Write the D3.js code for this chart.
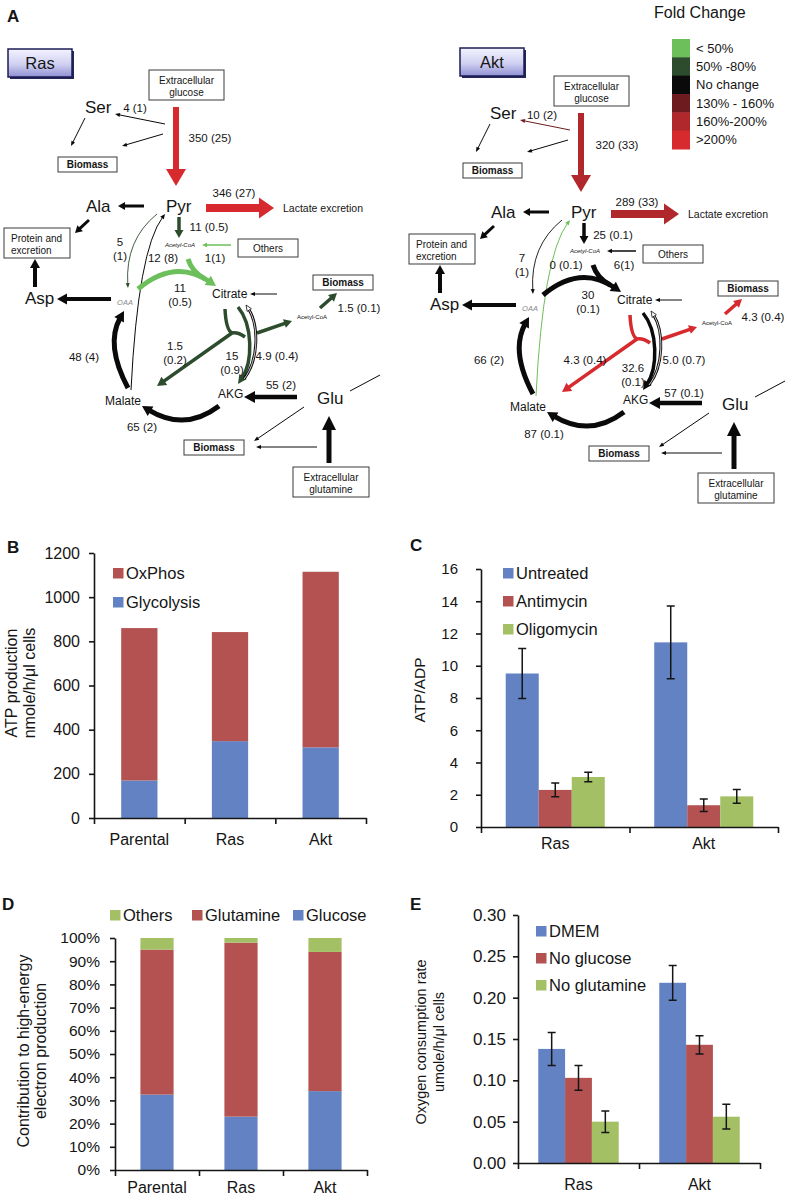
<!DOCTYPE html>
<html>
<head>
<meta charset="utf-8">
<script src="https://cdn.jsdelivr.net/npm/d3@7"></script>
<style>body{margin:0;background:#fff}</style>
</head>
<body>
<script>
var W = 787, H = 1199;
var FONT = '"Liberation Sans", Arial, Helvetica, sans-serif';
var INK = '#151515';

// ---------- data ----------
var foldLevels = ['< 50%', '50% -80%', 'No change', '130% - 160%', '160%-200%', '>200%'];
var foldColors = ['#6cbf5a', '#2d4b2d', '#0a0a0a', '#6e1b1f', '#b0282c', '#d62a2e'];

var fluxKeys = ['ser', 'glc', 'lac', 'pdh', 'pc', 'me', 'oth', 'cs', 'mal', 'idh', 'rev', 'acly', 'mdh', 'gdh', 'fum'];
var rasFlux = ['4 (1)', '350 (25)', '346 (27)', '11 (0.5)', '5\n(1)', '12 (8)', '1(1)', '11\n(0.5)', '1.5\n(0.2)', '15\n(0.9)', '4.9 (0.4)', '1.5 (0.1)', '48 (4)', '55 (2)', '65 (2)'];
var aktFlux = ['10 (2)', '320 (33)', '289 (33)', '25 (0.1)', '7\n(1)', '0 (0.1)', '6(1)', '30\n(0.1)', '4.3 (0.4)', '32.6\n(0.1)', '5.0 (0.7)', '4.3 (0.4)', '66 (2)', '57 (0.1)', '87 (0.1)'];

// fold-change class of each reaction (index in foldLevels, 2 = no change when missing)
var rasFold = {glc: 5, lac: 5, pdh: 1, oth: 0, pc: 1, cs: 0, acoaIn: 0, acly: 1, bio: 1, mal: 1, idh: 1};
var aktFold = {glc: 4, lac: 4, ser: 3, me: 0, acly: 5, bio: 5, mal: 5};

var atpCats = ['Parental', 'Ras', 'Akt'];
var atpSeries = ['Glycolysis', 'OxPhos'];
var atpGlycolysis = [170, 348, 320];
var atpOxphos = [690, 494, 795];

var ratioCats = ['Ras', 'Akt'];
var ratioSeries = ['Untreated', 'Antimycin', 'Oligomycin'];
var ratioMean = [[9.52, 2.3, 3.1], [11.45, 1.35, 1.9]];
var ratioErr = [[1.55, 0.43, 0.3], [2.25, 0.39, 0.43]];

var elecCats = ['Parental', 'Ras', 'Akt'];
var elecSeries = ['Glucose', 'Glutamine', 'Others'];
var elecGlucose = [32.5, 23, 34];
var elecGlutamine = [62.5, 75, 60];
var elecOthers = [5, 2, 6];

var o2Cats = ['Ras', 'Akt'];
var o2Series = ['DMEM', 'No glucose', 'No glutamine'];
var o2Mean = [[0.138, 0.103, 0.050], [0.218, 0.143, 0.056]];
var o2Err = [[0.020, 0.015, 0.013], [0.021, 0.011, 0.015]];

var BLUE = '#6382c3', RED = '#b45252', GREEN = '#a3c164';

// ---------- layout of the pathway sketch (panel-local px) ----------
var geo = {
  glc:    {pts: [[176, 107], [176, 186]], w: 6, hl: 17, hw: 20},
  lac:    {pts: [[206, 208], [274, 208]], w: 8, hl: 15, hw: 21},
  ser:    {pts: [[165, 124], [115, 114]], w: 1, hl: 5, hw: 4},
  serBio2:{pts: [[163, 134], [122, 146]], w: 1, hl: 5, hw: 4},
  serBio: {pts: [[85, 118], [71, 146]], w: 1, hl: 5, hw: 4},
  ala:    {pts: [[144, 206], [118, 206]], w: 3, hl: 7, hw: 8},
  alaOut: {pts: [[89, 220], [75, 233]], w: 3, hl: 7, hw: 8},
  pdh:    {pts: [[179, 217], [179, 238]], w: 3.5, hl: 8, hw: 9},
  oth:    {pts: [[231, 245], [202, 245]], w: 1.5, hl: 5, hw: 4.5},
  pc:     {pts: [[157, 214], [125, 240], [128, 288]], w: 0.9, hl: 5, hw: 4},
  me:     {pts: [[131, 390], [138, 250], [165, 214]], w: 1, hl: 5, hw: 4.5},
  cs:     {pts: [[138, 289], [175, 258], [216, 286]], w: 5, hl: 10, hw: 11},
  acoaIn: {pts: [[188, 259], [192, 272], [205, 279]], w: 5},
  citIn:  {pts: [[277, 294], [250, 294]], w: 1, hl: 5, hw: 4},
  acly:   {pts: [[257, 333], [292, 321]], w: 3.5, hl: 8, hw: 9},
  bio:    {pts: [[320, 308], [337, 293]], w: 3.5, hl: 8, hw: 9},
  malA:   {pts: [[225, 309], [226, 330], [232, 333]], w: 3.5, fold: 'mal'},
  malB:   {pts: [[245, 337], [238, 332], [232, 333]], w: 3.5, fold: 'mal'},
  mal:    {pts: [[232, 333], [157, 386]], w: 3.5, hl: 9, hw: 10},
  idh:    {pts: [[238, 307], [253, 325], [253, 362], [238, 384]], w: 3.5, hl: 9, hw: 9},
  rev:    {pts: [[244, 379], [259, 360], [259, 325], [246, 305]], w: 1, hl: 6, hw: 5, outline: true},
  gdh:    {pts: [[297, 397], [244, 397]], w: 4.5, hl: 11, hw: 12},
  fum:    {pts: [[219, 406], [185, 432], [142, 406]], w: 5, hl: 10, hw: 11},
  mdh:    {pts: [[128, 388], [105, 345], [124, 311]], w: 5, hl: 10, hw: 11},
  asp:    {pts: [[111, 299], [57, 299]], w: 4, hl: 10, hw: 11},
  aspOut: {pts: [[35, 287], [35, 259]], w: 4, hl: 9, hw: 10},
  gluOut: {pts: [[350, 391], [380, 375]], w: 1},
  gluBio: {pts: [[304, 407], [254, 441]], w: 1, hl: 5, hw: 4},
  glnBio: {pts: [[317, 447], [256, 447]], w: 1, hl: 5, hw: 4},
  gln:    {pts: [[329, 463], [329, 416]], w: 5, hl: 14, hw: 14}
};

var nodes = [
  ['Ser', 85, 113, 17], ['Pyr', 166, 212, 17], ['Ala', 86, 212, 17], ['Asp', 25, 304, 17], ['Glu', 317, 404, 17],
  ['Citrate', 212, 298, 12], ['Malate', 105, 405, 12], ['AKG', 218, 398, 12]
];
var boxes = [
  {t: 'Extracellular\nglucose', x: 149, y: 70, w: 75, h: 30, ty: 84},
  {t: 'Biomass', x: 58, y: 157, w: 59, h: 15, ty: 168, bold: true},
  {t: 'Protein and\nexcretion', x: 4, y: 228, w: 66, h: 30, ty: 242, left: true},
  {t: 'Others', x: 238, y: 239, w: 60, h: 18, ty: 252},
  {t: 'Biomass', x: 313, y: 275, w: 60, h: 15, ty: 286, bold: true},
  {t: 'Biomass', x: 184, y: 440, w: 60, h: 15, ty: 451, bold: true},
  {t: 'Extracellular\nglutamine', x: 293, y: 467, w: 76, h: 30, ty: 481}
];
var fluxPos = {
  Ras: {ser: [135, 112], glc: [210, 142], lac: [234, 197], pdh: [209, 231], pc: [120, 246], me: [163, 262], oth: [215, 262],
        cs: [180, 292], mal: [175, 350], idh: [232, 360], rev: [277, 360], acly: [359, 312], mdh: [84, 361], gdh: [281, 389], fum: [142, 431]},
  Akt: {ser: [137, 113], glc: [212, 143], lac: [232, 200], pdh: [208, 233], pc: [117, 256], me: [161, 263], oth: [219, 263],
        cs: [183, 293], mal: [180, 358], idh: [228, 366], rev: [279, 358], acly: [358, 315], mdh: [84, 358], gdh: [279, 391], fum: [139, 432]}
};

var svg = d3.select('body').append('svg')
  .attr('width', W).attr('height', H)
  .style('font-family', FONT);

var defs = svg.append('defs');
var grad = defs.append('linearGradient').attr('id', 'tagfill').attr('x1', 0).attr('y1', 0).attr('x2', 0).attr('y2', 1);
grad.append('stop').attr('offset', '0%').attr('stop-color', '#f3f3ff');
grad.append('stop').attr('offset', '55%').attr('stop-color', '#d0d0f2');
grad.append('stop').attr('offset', '100%').attr('stop-color', '#8f8fd2');

function txt(g, s, x, y, o) {
  o = o || {};
  var t = g.append('text').attr('x', x).attr('y', y)
    .attr('font-size', o.size || 11.5)
    .attr('text-anchor', o.anchor || 'start')
    .attr('fill', o.color || INK);
  if (o.bold) t.attr('font-weight', 'bold');
  if (o.italic) t.attr('font-style', 'italic');
  s.split('\n').forEach(function (line, i) {
    t.append('tspan').attr('x', x).attr('dy', i ? (o.lh || 13.5) : 0).text(line);
  });
  return t;
}

function arrow(g, a, color) {
  var p = a.pts.map(function (q) { return q.slice(); });
  var n = p.length, end = a.pts[n - 1], prev = a.pts[n - 2];
  var dx = end[0] - prev[0], dy = end[1] - prev[1], L = Math.hypot(dx, dy);
  dx /= L; dy /= L;
  if (a.hl) p[n - 1] = [end[0] - dx * a.hl * 0.75, end[1] - dy * a.hl * 0.75];
  var path = d3.path();
  path.moveTo(p[0][0], p[0][1]);
  if (n === 2) path.lineTo(p[1][0], p[1][1]);
  else if (n === 3) path.quadraticCurveTo(p[1][0], p[1][1], p[2][0], p[2][1]);
  else path.bezierCurveTo(p[1][0], p[1][1], p[2][0], p[2][1], p[3][0], p[3][1]);
  if (a.outline) {
    g.append('path').attr('d', path.toString()).attr('fill', 'none').attr('stroke', color).attr('stroke-width', a.w + 1.8);
    g.append('path').attr('d', path.toString()).attr('fill', 'none').attr('stroke', '#fff').attr('stroke-width', a.w * 0.8);
  } else {
    g.append('path').attr('d', path.toString()).attr('fill', 'none').attr('stroke', color).attr('stroke-width', a.w);
  }
  if (a.hl) {
    var bx = end[0] - dx * a.hl, by = end[1] - dy * a.hl, nx = -dy * a.hw / 2, ny = dx * a.hw / 2;
    g.append('path')
      .attr('d', 'M' + end + 'L' + [bx + nx, by + ny] + 'L' + [bx - nx, by - ny] + 'Z')
      .attr('fill', a.outline ? '#fff' : color)
      .attr('stroke', a.outline ? color : 'none').attr('stroke-width', 0.8);
  }
}

// ---------- panel A ----------
txt(svg, 'A', 7, 22, {size: 17, bold: true});

var panels = [
  {name: 'Ras', flux: rasFlux, fold: rasFold, dx: 0, dy: 0, tag: [8, 49]},
  {name: 'Akt', flux: aktFlux, fold: aktFold, dx: 405, dy: 6, tag: [460, 48]}
];

panels.forEach(function (P) {
  // tag box
  svg.append('rect').attr('x', P.tag[0] + 2).attr('y', P.tag[1] + 2).attr('width', 64).attr('height', 28).attr('fill', '#25255a');
  svg.append('rect').attr('x', P.tag[0]).attr('y', P.tag[1]).attr('width', 64).attr('height', 28)
    .attr('fill', 'url(#tagfill)').attr('stroke', '#1d1d55').attr('stroke-width', 1.5);
  txt(svg, P.name, P.tag[0] + 32, P.tag[1] + 20, {size: 16.5, anchor: 'middle'});

  var g = svg.append('g').attr('transform', 'translate(' + P.dx + ',' + P.dy + ')');

  Object.keys(geo).forEach(function (k) {
    var key = geo[k].fold || k;
    var lvl = P.fold[key] !== undefined ? P.fold[key] : 2;
    arrow(g, geo[k], foldColors[lvl]);
  });

  boxes.forEach(function (b) {
    g.append('rect').attr('x', b.x).attr('y', b.y).attr('width', b.w).attr('height', b.h)
      .attr('fill', '#fff').attr('stroke', '#3a3a3a').attr('stroke-width', 1);
    txt(g, b.t, b.left ? b.x + 7 : b.x + b.w / 2, b.ty, {size: 10, bold: b.bold, anchor: b.left ? 'start' : 'middle', lh: 12});
  });

  nodes.forEach(function (d) { txt(g, d[0], d[1], d[2], {size: d[3]}); });
  txt(g, 'OAA', 125, 305, {size: 7.5, italic: true, anchor: 'middle', color: '#8a8a8a'});
  txt(g, 'Acetyl-CoA', 180, 247, {size: 6, italic: true, anchor: 'middle'});
  txt(g, 'Acetyl-CoA', 312, 319, {size: 6, anchor: 'middle'});
  txt(g, 'Lactate excretion', 283, 212, {size: 10.5});

  fluxKeys.forEach(function (k, i) {
    var pos = fluxPos[P.name][k];
    txt(g, P.flux[i], pos[0], pos[1], {size: 11.5, anchor: 'middle', lh: 13.5});
  });
});

// fold change legend
txt(svg, 'Fold Change', 654, 18, {size: 16});
var fcY = d3.scaleBand().domain(foldLevels).range([39, 149]);
svg.selectAll('rect.fc').data(foldLevels).join('rect').attr('class', 'fc')
  .attr('x', 672).attr('y', function (d) { return fcY(d); })
  .attr('width', 18).attr('height', fcY.bandwidth() + 0.5)
  .attr('fill', function (d, i) { return foldColors[i]; });
foldLevels.forEach(function (d) {
  txt(svg, d, 696, fcY(d) + fcY.bandwidth() / 2 + 4.5, {size: 13});
});

// ---------- chart helpers ----------
function yAxis(y, x, ticks, fmt, size, pad) {
  var ag = svg.append('g').attr('transform', 'translate(' + x + ',0)')
    .call(d3.axisLeft(y).tickValues(ticks).tickFormat(fmt).tickSize(5).tickSizeOuter(0).tickPadding(pad));
  ag.attr('font-family', FONT).attr('font-size', size);
  ag.selectAll('path,line').attr('stroke', INK).attr('stroke-width', 1.6);
  ag.selectAll('text').attr('fill', INK);
}
function xAxis(xb, yPix, size, labelY) {
  var r = xb.range();
  var lin = d3.scaleLinear().domain(r).range(r);
  var bounds = xb.domain().map(function (c) { return xb(c); }).concat([r[1]]);
  var ag = svg.append('g').attr('transform', 'translate(0,' + yPix + ')')
    .call(d3.axisBottom(lin).tickValues(bounds).tickFormat('').tickSize(6).tickSizeOuter(0));
  ag.selectAll('path,line').attr('stroke', INK).attr('stroke-width', 1.6);
  xb.domain().forEach(function (c) {
    txt(svg, c, xb(c) + xb.bandwidth() / 2, labelY, {size: size, anchor: 'middle'});
  });
}
function vLabel(lines, xs, cy, size) {
  lines.forEach(function (s, i) {
    svg.append('text').attr('transform', 'translate(' + xs[i] + ',' + cy + ') rotate(-90)')
      .attr('text-anchor', 'middle').attr('font-size', size).attr('fill', INK).text(s);
  });
}
function legend(items, colors, xs, ys, size) {
  items.forEach(function (s, i) {
    svg.append('rect').attr('x', xs[i]).attr('y', ys[i] - 10).attr('width', 10.5).attr('height', 10.5).attr('fill', colors[i]);
    txt(svg, s, xs[i] + 13, ys[i] + 0.5, {size: size});
  });
}
function errBars(x, y, v, e) {
  svg.append('path')
    .attr('d', 'M' + x + ',' + y(v + e) + 'V' + y(v - e) + 'M' + (x - 4) + ',' + y(v + e) + 'h8M' + (x - 4) + ',' + y(v - e) + 'h8')
    .attr('stroke', INK).attr('stroke-width', 1.5).attr('fill', 'none');
}

// ---------- panel B ----------
txt(svg, 'B', 7, 553, {size: 17, bold: true});
var bx = d3.scaleBand().domain(atpCats).range([94, 366]);
var by = d3.scaleLinear().domain([0, 1200]).range([818, 553]);
var atpRows = atpCats.map(function (c, i) { return {cat: c, Glycolysis: atpGlycolysis[i], OxPhos: atpOxphos[i]}; });
var atpStack = d3.stack().keys(atpSeries)(atpRows);
var bw = bx.bandwidth() * 0.4;
atpStack.forEach(function (s, si) {
  svg.selectAll(null).data(s).join('rect')
    .attr('x', function (d) { return bx(d.data.cat) + (bx.bandwidth() - bw) / 2; })
    .attr('y', function (d) { return by(d[1]); })
    .attr('width', bw)
    .attr('height', function (d) { return by(d[0]) - by(d[1]); })
    .attr('fill', si === 0 ? BLUE : RED);
});
yAxis(by, 94, d3.range(0, 1201, 200), d3.format('d'), 16, 9);
xAxis(bx, 818, 16, 845);
vLabel(['ATP production', 'nmole/h/\u03bcl cells'], [17, 35], 683, 16);
legend(['OxPhos', 'Glycolysis'], [RED, BLUE], [113, 113], [578, 607], 16.5);

// ---------- panel C ----------
txt(svg, 'C', 410, 551, {size: 17, bold: true});
var cx0 = d3.scaleBand().domain(ratioCats).range([481, 778]);
var cGroup = cx0.bandwidth() * 0.667;
var cx1 = d3.scaleBand().domain(ratioSeries).range([0, cGroup]);
var cy = d3.scaleLinear().domain([0, 16]).range([827, 569]);
var ratioColors = [BLUE, RED, GREEN];
ratioCats.forEach(function (c, ci) {
  var gx = cx0(c) + (cx0.bandwidth() - cGroup) / 2;
  ratioSeries.forEach(function (s, si) {
    var v = ratioMean[ci][si];
    svg.append('rect').attr('x', gx + cx1(s)).attr('y', cy(v)).attr('width', cx1.bandwidth())
      .attr('height', cy(0) - cy(v)).attr('fill', ratioColors[si]);
    errBars(gx + cx1(s) + cx1.bandwidth() / 2, cy, v, ratioErr[ci][si]);
  });
});
yAxis(cy, 481, d3.range(0, 17, 2), d3.format('d'), 15, 18);
xAxis(cx0, 827, 16, 849);
vLabel(['ATP/ADP'], [425], 690, 15.5);
legend(ratioSeries, ratioColors, [503, 503, 503], [578, 606, 634], 16.5);

// ---------- panel D ----------
txt(svg, 'D', 2, 910, {size: 17, bold: true});
var dx = d3.scaleBand().domain(elecCats).range([115, 367]);
var dy = d3.scaleLinear().domain([0, 100]).range([1170, 938]);
var elecRows = elecCats.map(function (c, i) { return {cat: c, Glucose: elecGlucose[i], Glutamine: elecGlutamine[i], Others: elecOthers[i]}; });
var elecStack = d3.stack().keys(elecSeries)(elecRows);
var elecColors = [BLUE, RED, GREEN];
var dw = dx.bandwidth() * 0.395;
elecStack.forEach(function (s, si) {
  svg.selectAll(null).data(s).join('rect')
    .attr('x', function (d) { return dx(d.data.cat) + (dx.bandwidth() - dw) / 2; })
    .attr('y', function (d) { return dy(d[1]); })
    .attr('width', dw)
    .attr('height', function (d) { return dy(d[0]) - dy(d[1]); })
    .attr('fill', elecColors[si]);
});
yAxis(dy, 115, d3.range(0, 101, 10), function (d) { return d + '%'; }, 15.5, 10);
xAxis(dx, 1170, 16, 1193);
vLabel(['Contribution to high-energy', 'electron production'], [29, 46], 1051, 16);
legend(['Others', 'Glutamine', 'Glucose'], [GREEN, RED, BLUE], [110, 192, 293], [920, 920, 920], 16.5);

// ---------- panel E ----------
txt(svg, 'E', 410, 910, {size: 17, bold: true});
var ex0 = d3.scaleBand().domain(o2Cats).range([518, 760]);
var eGroup = ex0.bandwidth() * 0.665;
var ex1 = d3.scaleBand().domain(o2Series).range([0, eGroup]);
var ey = d3.scaleLinear().domain([0, 0.3]).range([1163, 915]);
var o2Colors = [BLUE, RED, GREEN];
o2Cats.forEach(function (c, ci) {
  var gx = ex0(c) + (ex0.bandwidth() - eGroup) / 2;
  o2Series.forEach(function (s, si) {
    var v = o2Mean[ci][si];
    svg.append('rect').attr('x', gx + ex1(s)).attr('y', ey(v)).attr('width', ex1.bandwidth())
      .attr('height', ey(0) - ey(v)).attr('fill', o2Colors[si]);
    errBars(gx + ex1(s) + ex1.bandwidth() / 2, ey, v, o2Err[ci][si]);
  });
});
yAxis(ey, 518, d3.range(0, 0.301, 0.05), d3.format('.2f'), 17, 7);
xAxis(ex0, 1163, 16, 1190);
vLabel(['Oxygen consumption rate', 'umole/h/\u03bcl cells'], [426, 444], 1042, 14.5);
legend(o2Series, o2Colors, [536, 536, 536], [936, 963, 990], 16.5);
</script>
</body>
</html>
